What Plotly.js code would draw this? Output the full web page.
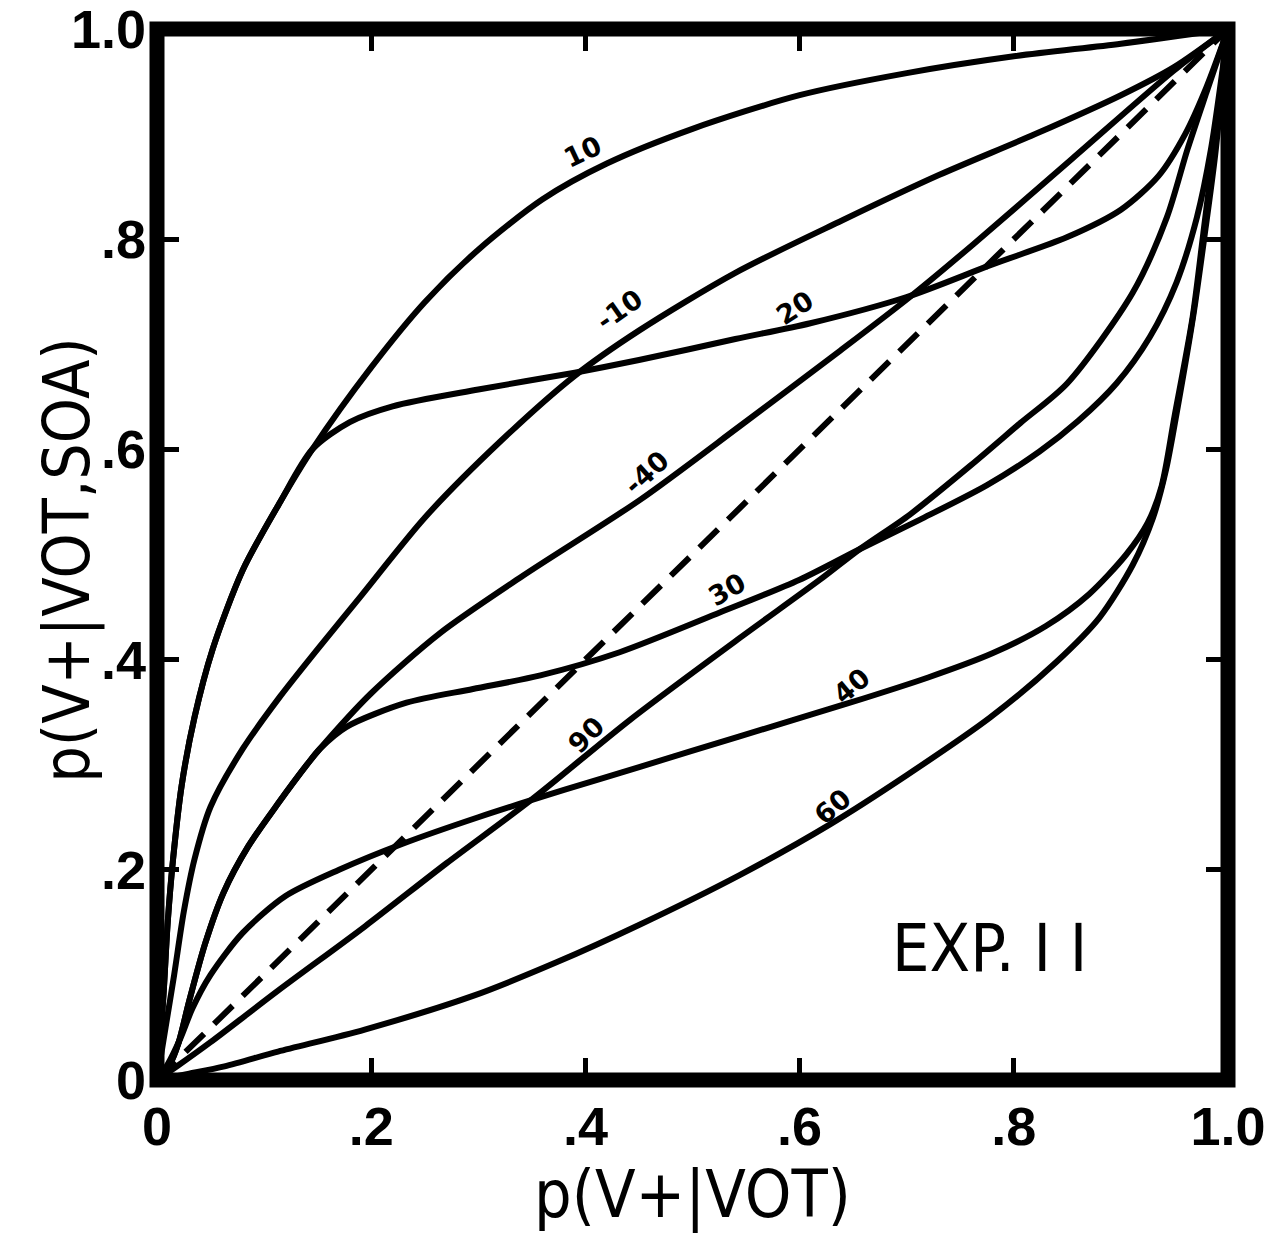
<!DOCTYPE html>
<html>
<head>
<meta charset="utf-8">
<script src="https://cdn.plot.ly/plotly-3.0.1.min.js"></script>
<style>
  html, body { margin: 0; padding: 0; background: #ffffff; }
  #chart { width: 1270px; height: 1245px; }
</style>
</head>
<body>
<div id="chart"></div>
<script>
// ---- Data (Exp. II, p(V+|VOT,SOA) vs p(V+|VOT)) ----
const tickVals = [0, 0.2, 0.4, 0.6, 0.8, 1.0];
const tickText = ["0", ".2", ".4", ".6", ".8", "1.0"];

const curveNames = ["10", "-10", "20", "-40", "30", "90", "40", "60"];

const x10 = [0, 0.006, 0.01, 0.015, 0.023, 0.035, 0.052, 0.08, 0.115, 0.145, 0.2, 0.25, 0.3, 0.36, 0.42, 0.5, 0.6, 0.7, 0.8, 0.9, 1];
const y10 = [0, 0.08, 0.15, 0.21, 0.28, 0.345, 0.41, 0.485, 0.55, 0.6, 0.678, 0.74, 0.79, 0.838, 0.872, 0.905, 0.937, 0.958, 0.974, 0.986, 1];

const xm10 = [0, 0.008, 0.016, 0.025, 0.035, 0.05, 0.08, 0.115, 0.15, 0.19, 0.25, 0.32, 0.39, 0.45, 0.54, 0.64, 0.73, 0.82, 0.9, 0.95, 1];
const ym10 = [0, 0.05, 0.1, 0.16, 0.21, 0.26, 0.315, 0.365, 0.41, 0.46, 0.535, 0.607, 0.67, 0.713, 0.768, 0.818, 0.861, 0.9, 0.937, 0.964, 1];

const x20 = [0, 0.006, 0.01, 0.015, 0.023, 0.035, 0.052, 0.08, 0.115, 0.145, 0.18, 0.22, 0.3, 0.39, 0.45, 0.54, 0.61, 0.7, 0.78, 0.85, 0.9, 0.935, 0.96, 0.98, 1];
const y20 = [0, 0.08, 0.15, 0.21, 0.28, 0.345, 0.41, 0.485, 0.55, 0.6, 0.626, 0.641, 0.657, 0.673, 0.685, 0.705, 0.72, 0.745, 0.776, 0.802, 0.828, 0.86, 0.9, 0.945, 1];

const xm40 = [0, 0.012, 0.02, 0.03, 0.045, 0.062, 0.085, 0.113, 0.14, 0.152, 0.2, 0.264, 0.342, 0.451, 0.544, 0.638, 0.703, 0.762, 0.855, 0.949, 1];
const ym40 = [0, 0.015, 0.035, 0.075, 0.13, 0.178, 0.222, 0.263, 0.3, 0.315, 0.368, 0.425, 0.48, 0.552, 0.622, 0.694, 0.745, 0.795, 0.877, 0.96, 1];

const x30 = [0, 0.012, 0.02, 0.03, 0.045, 0.062, 0.085, 0.113, 0.14, 0.152, 0.177, 0.233, 0.295, 0.358, 0.432, 0.526, 0.6, 0.656, 0.712, 0.775, 0.824, 0.86, 0.896, 0.927, 0.952, 0.971, 0.984, 1];
const y30 = [0, 0.015, 0.035, 0.075, 0.13, 0.178, 0.222, 0.263, 0.3, 0.315, 0.336, 0.359, 0.372, 0.385, 0.407, 0.445, 0.476, 0.505, 0.533, 0.566, 0.598, 0.627, 0.663, 0.707, 0.759, 0.821, 0.885, 1];

const x90 = [0, 0.02, 0.05, 0.113, 0.194, 0.27, 0.35, 0.442, 0.542, 0.619, 0.656, 0.703, 0.76, 0.806, 0.85, 0.911, 0.943, 0.962, 0.98, 1];
const y90 = [0, 0.014, 0.036, 0.085, 0.146, 0.206, 0.267, 0.343, 0.419, 0.476, 0.505, 0.538, 0.585, 0.625, 0.663, 0.749, 0.821, 0.885, 0.94, 1];

const x40 = [0, 0.01, 0.022, 0.033, 0.05, 0.08, 0.12, 0.17, 0.23, 0.3, 0.38, 0.451, 0.544, 0.644, 0.72, 0.78, 0.83, 0.87, 0.905, 0.925, 0.938, 0.95, 0.967, 0.977, 0.986, 1];
const y40 = [0, 0.015, 0.04, 0.068, 0.1, 0.14, 0.175, 0.2, 0.225, 0.25, 0.276, 0.298, 0.327, 0.358, 0.383, 0.406, 0.432, 0.462, 0.5, 0.53, 0.565, 0.631, 0.726, 0.806, 0.88, 1];

const x60 = [0, 0.03, 0.063, 0.113, 0.194, 0.295, 0.373, 0.451, 0.544, 0.628, 0.7, 0.778, 0.84, 0.88, 0.911, 0.93, 0.942, 0.953, 0.968, 0.979, 0.988, 1];
const y60 = [0, 0.006, 0.013, 0.027, 0.048, 0.08, 0.112, 0.148, 0.195, 0.243, 0.29, 0.345, 0.398, 0.44, 0.49, 0.535, 0.58, 0.64, 0.73, 0.81, 0.88, 1];

const diagX = [0, 1];
const diagY = [0, 1];

// curve label placement (text, x, y, angle)
const labelText = ["10", "-10", "20", "-40", "30", "90", "40", "60"];
const labelX = [0.398, 0.432, 0.596, 0.457, 0.532, 0.401, 0.649, 0.631];
const labelY = [0.883, 0.733, 0.735, 0.578, 0.467, 0.329, 0.375, 0.26];
const labelAngle = [-25, -35, -33, -42, -30, -45, -40, -40];

// ---- Build figure ----
const curvesX = [x10, xm10, x20, xm40, x30, x90, x40, x60];
const curvesY = [y10, ym10, y20, ym40, y30, y90, y40, y60];

const traces = [{
  x: diagX, y: diagY, type: "scatter", mode: "lines", name: "chance",
  line: { color: "#000", width: 6, dash: "26px,14px" }, hoverinfo: "skip"
}];
curvesX.forEach((cx, i) => {
  traces.push({
    x: cx, y: curvesY[i], type: "scatter", mode: "lines", name: "SOA " + curveNames[i],
    line: { color: "#000", width: 6, shape: "spline", smoothing: 0.8 }
  });
});

const titleFont = "DejaVu Sans Condensed, Liberation Sans Narrow, Liberation Sans, sans-serif";

const annotations = labelText.map((t, i) => ({
  x: labelX[i], y: labelY[i], xref: "x", yref: "y", text: t, showarrow: false,
  textangle: labelAngle[i], xanchor: "center", yanchor: "middle",
  font: { family: "DejaVu Sans, Liberation Sans, sans-serif", size: 27, color: "#000", weight: "bold" }
}));
annotations.push({
  x: 0.777, y: 0.125, xref: "x", yref: "y", text: "EXP. I I", showarrow: false,
  xanchor: "center", yanchor: "middle",
  font: { family: titleFont, size: 66, color: "#000" }
});
// y-axis title, placed as text so it can sit between the tick labels like the original
annotations.push({
  x: -0.083, y: 0.495, xref: "paper", yref: "paper", text: "p(V+|VOT,SOA)", showarrow: false,
  textangle: -90, xanchor: "center", yanchor: "middle",
  font: { family: titleFont, size: 64, color: "#000" }
});

const axisCommon = {
  range: [0, 1], tickmode: "array", tickvals: tickVals, ticktext: tickText,
  ticks: "inside", ticklen: 22, tickwidth: 5, tickcolor: "#000",
  mirror: "ticks", showline: false, showgrid: false, zeroline: false,
  ticklabelstandoff: 10, ticklabeloverflow: "allow",
  tickfont: { family: "Liberation Sans, Arial, sans-serif", size: 54, color: "#000", weight: "bold" },
  fixedrange: true, automargin: false
};

const layout = {
  width: 1270, height: 1245,
  margin: { l: 157, r: 42, t: 29, b: 165 },
  paper_bgcolor: "#fff", plot_bgcolor: "#fff",
  showlegend: false,
  xaxis: Object.assign({}, axisCommon, {
    title: { text: "p(V+|VOT)", standoff: 10,
      font: { family: titleFont, size: 66, color: "#000" } }
  }),
  yaxis: Object.assign({}, axisCommon),
  shapes: [{
    type: "rect", xref: "paper", yref: "paper", x0: 0, x1: 1, y0: 0, y1: 1,
    line: { color: "#000", width: 15 }, layer: "above"
  }],
  annotations: annotations
};

Plotly.newPlot("chart", traces, layout, { displayModeBar: false, staticPlot: true });
</script>
</body>
</html>
